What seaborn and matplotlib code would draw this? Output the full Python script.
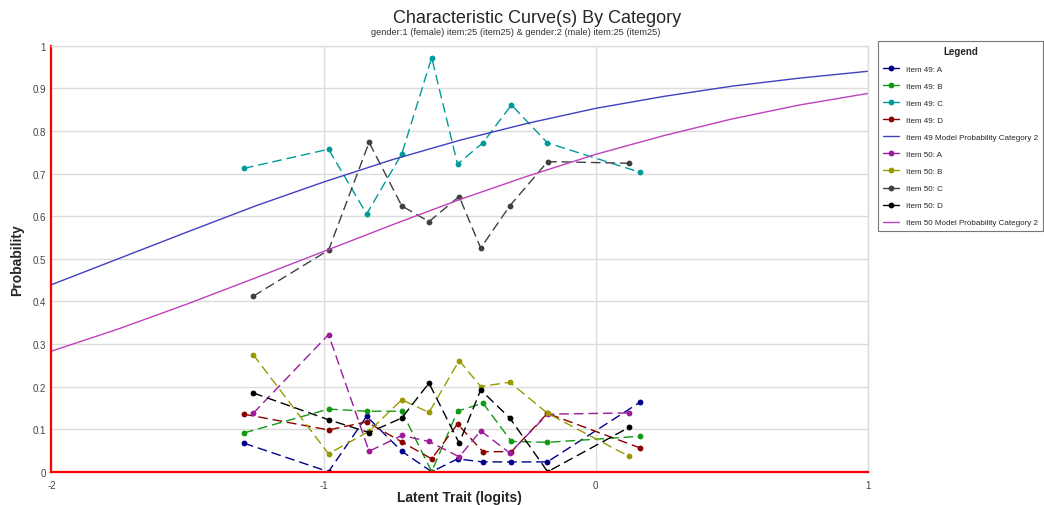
# Curvas características por categoría (items 49 y 50)
import pandas as pd
import matplotlib
matplotlib.use("Agg")
import matplotlib.pyplot as plt
from matplotlib.lines import Line2D
import seaborn as sns

# Posiciones (logits) de los grupos de cada item
theta_49 = [-1.293, -0.982, -0.842, -0.713, -0.603, -0.508, -0.415, -0.310, -0.178, 0.162]
theta_50 = [-1.259, -0.982, -0.833, -0.713, -0.613, -0.502, -0.423, -0.316, -0.177, 0.122]

# Proporciones observadas por opción
item49_a = [0.067, 0.0, 0.13, 0.048, 0.0, 0.03, 0.023, 0.023, 0.023, 0.163]
item49_b = [0.091, 0.147, 0.142, 0.142, 0.0, 0.142, 0.161, 0.071, 0.069, 0.083]
item49_c = [0.712, 0.757, 0.605, 0.746, 0.972, 0.722, 0.772, 0.861, 0.772, 0.703]
item49_d = [0.135, 0.098, 0.117, 0.07, 0.03, 0.112, 0.047, 0.047, 0.137, 0.056]
item50_a = [0.137, 0.322, 0.048, 0.085, 0.071, 0.035, 0.096, 0.044, 0.135, 0.138]
item50_b = [0.275, 0.042, 0.095, 0.169, 0.139, 0.261, 0.200, 0.210, 0.137, 0.036]
item50_c = [0.412, 0.520, 0.773, 0.624, 0.587, 0.646, 0.525, 0.624, 0.728, 0.724]
item50_d = [0.185, 0.122, 0.092, 0.126, 0.208, 0.067, 0.192, 0.126, 0.0, 0.104]

# Curvas del modelo
theta_model = [-2.0, -1.75, -1.5, -1.25, -1.0, -0.75, -0.5, -0.25, 0.0, 0.25, 0.5, 0.75, 1.0]
model_49 = [0.439, 0.501, 0.563, 0.624, 0.680, 0.732, 0.778, 0.818, 0.853, 0.881, 0.905, 0.924, 0.940]
model_50 = [0.283, 0.336, 0.394, 0.455, 0.517, 0.579, 0.639, 0.694, 0.745, 0.789, 0.828, 0.861, 0.888]

series = [
    ("Item 49: A", theta_49, item49_a, "#00008B", True),
    ("Item 49: B", theta_49, item49_b, "#129912", True),
    ("Item 49: C", theta_49, item49_c, "#009A9A", True),
    ("Item 49: D", theta_49, item49_d, "#8B0000", True),
    ("Item 49 Model Probability Category 2", theta_model, model_49, "#4040C0", False),
    ("Item 50: A", theta_50, item50_a, "#9B1B9B", True),
    ("Item 50: B", theta_50, item50_b, "#9A9A00", True),
    ("Item 50: C", theta_50, item50_c, "#404040", True),
    ("Item 50: D", theta_50, item50_d, "#000000", True),
    ("Item 50 Model Probability Category 2", theta_model, model_50, "#C040C0", False),
]

sns.set_style("white")
plt.rcParams["font.family"] = ["Liberation Sans", "DejaVu Sans"]

fig = plt.figure(figsize=(10.44, 5.06), dpi=100)
ax = fig.add_axes([0.0493, 0.0658, 0.7821, 0.8419])

handles = []
for name, xs, ys, color, observed in series:
    df = pd.DataFrame({"theta": xs, "p": ys})
    if observed:
        sns.lineplot(data=df, x="theta", y="p", ax=ax, color=color, lw=1.0,
                     linestyle=(0, (7, 3.5)), marker="o", markersize=4.2,
                     markeredgewidth=0, sort=False)
        handles.append(Line2D([], [], color=color, lw=1.0, marker="o",
                              markersize=4.2, markeredgewidth=0, label=name))
    else:
        sns.lineplot(data=df, x="theta", y="p", ax=ax, color=color, lw=1.0,
                     sort=False)
        handles.append(Line2D([], [], color=color, lw=1.0, label=name))

ax.set_xlim(-2, 1)
ax.set_ylim(0, 1)
ax.set_xticks([-2, -1, 0, 1])
ax.set_yticks([i / 10 for i in range(11)])
ax.set_xticklabels(["-2", "-1", "0", "1"])
ax.set_yticklabels(["0"] + [f"0.{i}" for i in range(1, 10)] + ["1"])
ax.grid(True, color="#dcdcdc", lw=1.0)
ax.set_axisbelow(True)

for side in ["left", "bottom"]:
    ax.spines[side].set_color("red")
    ax.spines[side].set_linewidth(1.6)
for side in ["top", "right"]:
    ax.spines[side].set_color("#dcdcdc")
    ax.spines[side].set_linewidth(1.0)
ax.tick_params(axis="both", colors="red", length=3, width=1, labelsize=7,
               labelcolor="#444444", pad=1)
ax.tick_params(axis="x", pad=3)

ax.set_xlabel("Latent Trait (logits)", fontsize=10, fontweight="bold", labelpad=0)
ax.set_ylabel("Probability", fontsize=10, fontweight="bold", labelpad=6)

fig.text(0.5145, 0.963, "Characteristic Curve(s) By Category", ha="center",
         va="center", fontsize=13)
fig.text(0.494, 0.936,
         "gender:1 (female) item:25 (item25) & gender:2 (male) item:25 (item25)",
         ha="center", va="center", fontsize=6.7, color="#333333")

leg = ax.legend(handles=handles, loc="upper left", bbox_to_anchor=(0.841, 0.917),
                bbox_transform=fig.transFigure, title="Legend", fontsize=5.8,
                frameon=True, fancybox=False, edgecolor="#555555",
                handlelength=2.0, labelspacing=1.17, borderpad=0.6,
                handletextpad=0.85, borderaxespad=0)
leg.get_title().set_fontweight("bold")
leg.get_title().set_fontsize(7)
leg.get_frame().set_linewidth(0.8)

fig.savefig("out.png", dpi=100)
